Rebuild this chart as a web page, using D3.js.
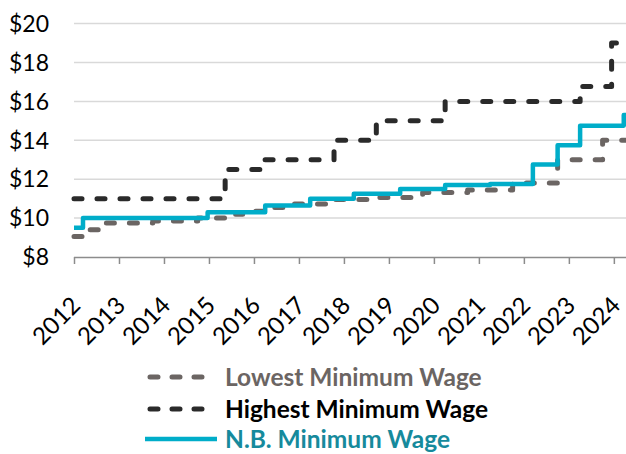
<!DOCTYPE html>
<html>
<head>
<meta charset="utf-8">
<script src="https://cdn.jsdelivr.net/npm/d3@7"></script>
<style>
  html, body { margin: 0; padding: 0; background: #fff; }
  svg { display: block; }
  text { font-family: Lato, "Open Sans", sans-serif; }
</style>
</head>
<body>
<svg id="chart" width="626" height="454"></svg>
<script>
// ---- Data (decimal year when a rate took effect, value in $) ----
const yearTicks = [2012, 2013, 2014, 2015, 2016, 2017, 2018, 2019, 2020, 2021, 2022, 2023, 2024];
const yTicks = [8, 10, 12, 14, 16, 18, 20];
const endYear = 2024.27;

const lowestYears  = [2012.00, 2012.25, 2012.70, 2013.75, 2014.75, 2015.40, 2015.75, 2016.25, 2016.75, 2017.75, 2018.75, 2019.75, 2020.75, 2021.75, 2022.75, 2023.75];
const lowestValues = [9.05,    9.40,    9.75,    9.85,    10.00,   10.20,   10.35,   10.55,   10.72,   10.96,   11.06,   11.32,   11.45,   11.81,   13.00,   14.00];

const highestYears  = [2012.00, 2015.36, 2016.20, 2017.78, 2018.72, 2020.25, 2023.25, 2023.95];
const highestValues = [11.00,   12.50,   13.00,   14.00,   15.00,   16.00,   16.77,   19.00];

const nbYears  = [2012.00, 2012.20, 2014.97, 2016.25, 2017.25, 2018.22, 2019.25, 2020.25, 2021.25, 2022.20, 2022.75, 2023.25, 2024.22];
const nbValues = [9.50,    10.00,   10.30,   10.65,   11.00,   11.25,   11.50,   11.70,   11.75,   12.75,   13.75,   14.75,   15.30];

const seriesNames = ["Lowest Minimum Wage", "Highest Minimum Wage", "N.B. Minimum Wage"];

// ---- Build ----
function toPoints(years, values) {
  const pts = years.map((y, i) => ({x: y, v: values[i]}));
  pts.push({x: endYear, v: values[values.length - 1]});
  return pts;
}
const series = [
  {name: seriesNames[0], pts: toPoints(lowestYears, lowestValues), color: "#6b6563", text: "#6b6563", width: 5, dash: "8,15"},
  {name: seriesNames[1], pts: toPoints(highestYears, highestValues), color: "#2a2a2a", text: "#000000", width: 5, dash: "8,15"},
  {name: seriesNames[2], pts: toPoints(nbYears, nbValues), color: "#00adc9", text: "#168a9c", width: 4.5, dash: null}
];

const svg = d3.select("#chart");
const x = d3.scaleLinear().domain([2012, endYear]).range([74, 626]);
const y = d3.scaleLinear().domain([8, 20]).range([257, 23.6]);

// gridlines
svg.append("g").selectAll("line").data(yTicks.filter(d => d > 8)).join("line")
  .attr("x1", x(2012)).attr("x2", 626)
  .attr("y1", d => y(d)).attr("y2", d => y(d))
  .attr("stroke", "#d9d9d9").attr("stroke-width", 1.5);

// y labels
svg.append("g").selectAll("text").data(yTicks).join("text")
  .attr("x", 49).attr("y", d => y(d)).attr("dy", "0.36em")
  .attr("text-anchor", "end").attr("font-size", 23).attr("fill", "#000")
  .text(d => "$" + d);

// x axis
const xAxis = d3.axisBottom(x).tickValues(yearTicks).tickSize(7).tickFormat("");
const gx = svg.append("g").attr("transform", `translate(0,${y(8)})`).call(xAxis);
gx.select(".domain").attr("stroke", "#8c8c8c").attr("stroke-width", 1.5).attr("d", `M${x(2012)},0.5H626`);
gx.selectAll(".tick line").attr("stroke", "#8c8c8c").attr("stroke-width", 1.5);

svg.append("g").selectAll("text").data(yearTicks).join("text")
  .attr("transform", d => `translate(${x(d) - 4},${y(8) + 38}) rotate(-45)`)
  .attr("text-anchor", "end").attr("dy", "0.7em")
  .attr("font-size", 24).attr("fill", "#000")
  .text(d => d);

// lines
const line = d3.line().x(d => x(d.x)).y(d => y(d.v)).curve(d3.curveStepAfter);
series.forEach(s => {
  svg.append("path").datum(s.pts)
    .attr("d", line)
    .attr("fill", "none")
    .attr("stroke", s.color)
    .attr("stroke-width", s.width)
    .attr("stroke-linecap", s.dash ? "round" : "butt")
    .attr("stroke-linejoin", "round")
    .attr("stroke-dasharray", s.dash);
});

// legend
const legendY = [377, 409, 439];
series.forEach((s, i) => {
  const g = svg.append("g");
  g.append("line")
    .attr("x1", s.dash ? 150 : 145).attr("x2", s.dash ? 210 : 217)
    .attr("y1", legendY[i]).attr("y2", legendY[i])
    .attr("stroke", s.color).attr("stroke-width", s.width)
    .attr("stroke-linecap", s.dash ? "round" : "butt")
    .attr("stroke-dasharray", s.dash ? "8,14" : null);
  g.append("text")
    .attr("x", 225).attr("y", legendY[i]).attr("dy", "0.36em")
    .attr("font-size", 24.5).attr("font-weight", "bold").attr("fill", s.text)
    .text(s.name);
});
</script>
</body>
</html>
